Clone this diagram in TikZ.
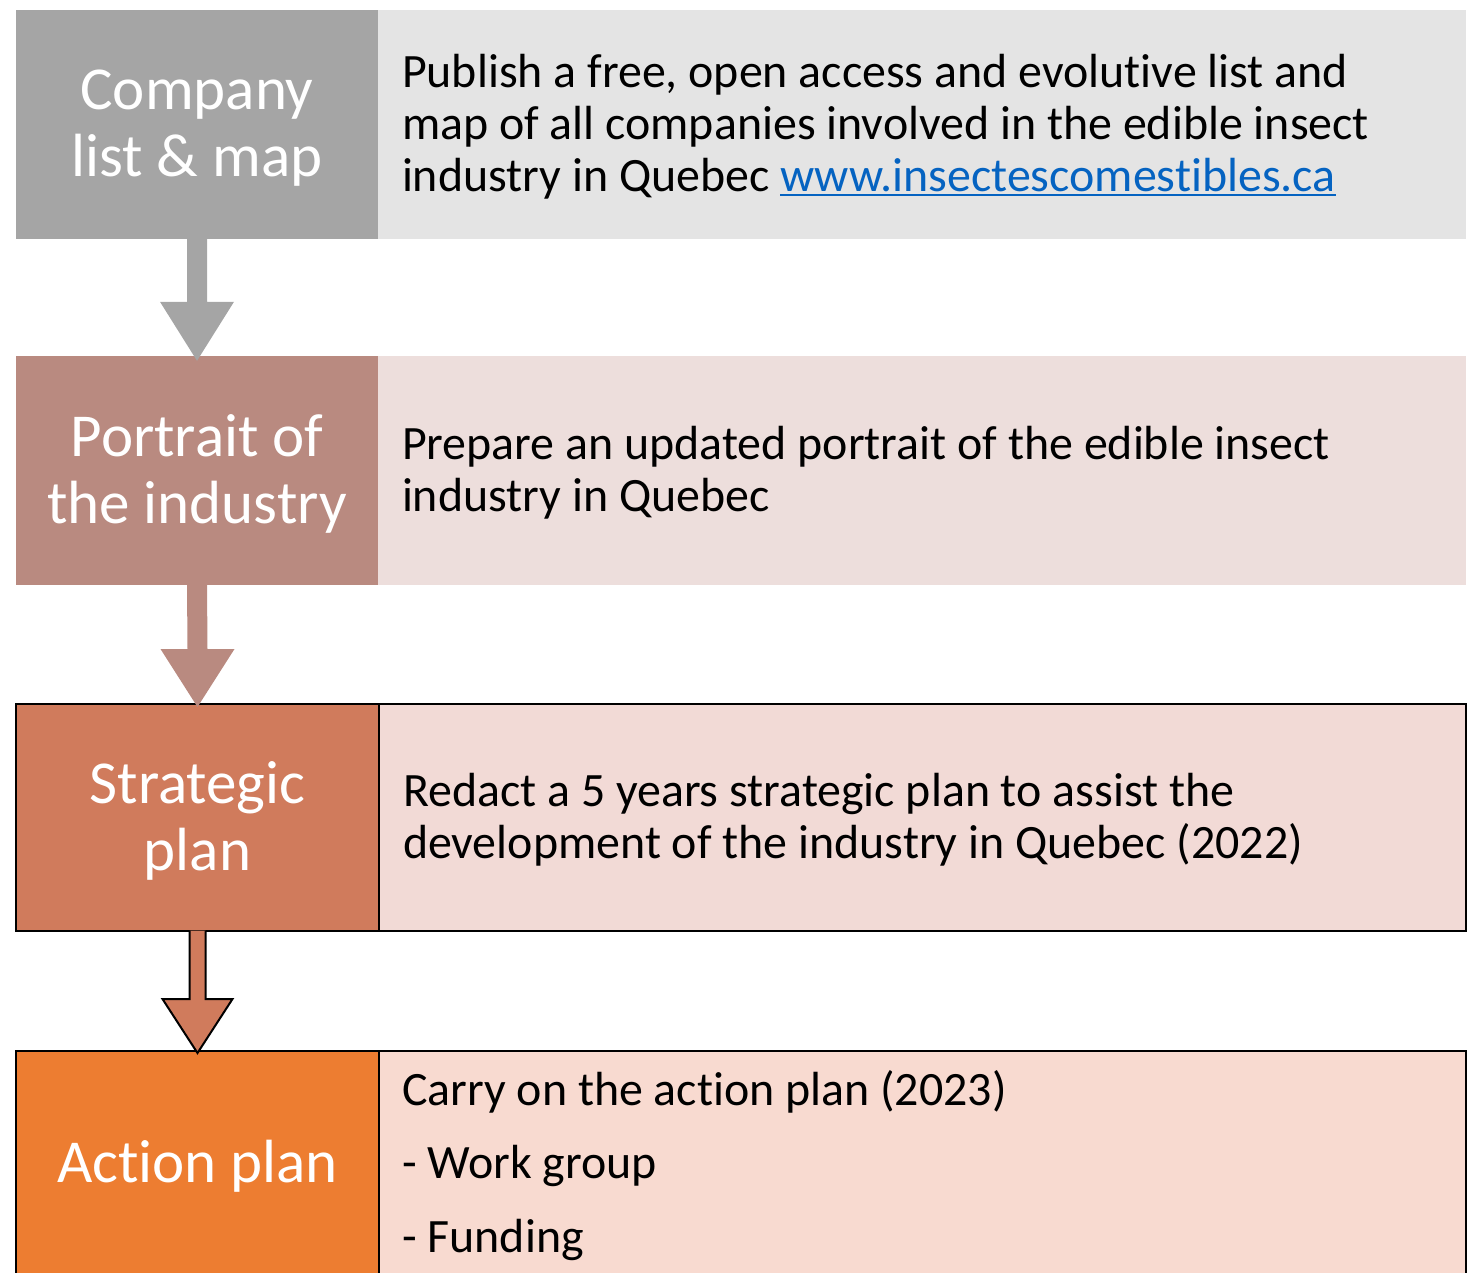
\documentclass[tikz,border=0pt]{standalone}
\usepackage{fontspec}
\setmainfont{Carlito}[Ligatures=CommonOff]
\usetikzlibrary{calc}
\definecolor{gDark}{HTML}{A5A5A5}
\definecolor{gLight}{HTML}{E4E4E4}
\definecolor{rDark}{HTML}{B98A80}
\definecolor{rLight}{HTML}{EDDEDC}
\definecolor{sDark}{HTML}{D07B5C}
\definecolor{sLight}{HTML}{F2DAD6}
\definecolor{oDark}{HTML}{ED7D31}
\definecolor{oLight}{HTML}{F8DAD0}
\definecolor{linkblue}{HTML}{0563C1}
\newcommand\linkul[1]{\setbox0=\hbox{#1}\rlap{\color{linkblue}\rule[-5pt]{\wd0}{2.2pt}}\box0}
\begin{document}
\begin{tikzpicture}[x=1pt,y=-1pt,
  lbox/.style={rectangle, minimum width=362pt, minimum height=229pt, inner sep=0pt,
    text=white, align=center, font=\fontsize{61}{67}\selectfont},
  ltext/.style={inner sep=0pt, text=white, align=center, font=\fontsize{61}{67}\selectfont, yshift=-3.5pt},
  rbox/.style={rectangle, minimum width=1088pt, minimum height=229pt, inner sep=0pt},
  rtext/.style={inner sep=0pt, text width=1040pt, align=flush left,
    font=\fontsize{47.9}{52}\selectfont, yshift=-2pt},
  ltxt/.style={anchor=base west, inner sep=0pt, font=\fontsize{47.9}{52}\selectfont},
  outl/.style={draw=black, line width=2pt},
]
\useasboundingbox (0,0) rectangle (1473,1273);
\clip (0,0) rectangle (1473,1273);

% Row 1
\node[lbox, fill=gDark] (l1) at (197,124.5) {};
\node[ltext] (lt1) at (l1) {Company\\list \& map};
\node[rbox, fill=gLight] (r1) at (922,124.5) {};
\node[rtext] (rt1) at (r1) {Publish a free, open access and evolutive list and\\map of all companies involved in the edible insect\\industry in Quebec \linkul{\textcolor{linkblue}{www.insectescomestibles.ca}}};

% Row 2
\node[lbox, fill=rDark] (l2) at (197,470.5) {};
\node[ltext] (lt2) at (l2) {Portrait of\\the industry};
\node[rbox, fill=rLight] (r2) at (922,470.5) {};
\node[rtext] (rt2) at (r2) {Prepare an updated portrait of the edible insect\\industry in Quebec};

% Row 3
\node[lbox, fill=sDark, outl, minimum width=363pt, minimum height=227pt] (l3) at (197.5,817.5) {};
\node[ltext] (lt3) at (l3) {Strategic\\plan};
\node[rbox, fill=sLight, outl, minimum width=1087pt, minimum height=227pt] (r3) at (922.5,817.5) {};
\node[rtext, text width=1039pt] (rt3) at (r3) {Redact a 5 years strategic plan to assist the\\development of the industry in Quebec (2022)};

% Row 4
\node[lbox, fill=oDark, outl, minimum width=363pt, minimum height=224pt] (l4) at (197.5,1163) {};
\node[ltext] (lt4) at (l4) {Action plan};
\node[rbox, fill=oLight, outl, minimum width=1087pt, minimum height=224pt] (r4) at (922.5,1163) {};
\node[ltxt] (t4a) at (402,1105) {Carry on the action plan (2023)};
\node[ltxt] (t4b) at (402,1178) {- Work group};
\node[ltxt] (t4c) at (402,1252) {- Funding};

% Arrows
\fill[gDark] ($(l1.south)+(-10,-1)$) -- ($(l2.north)+(-10,-54)$) -- ($(l2.north)+(-37,-54)$)
  -- ($(l2.north)+(0,5)$) -- ($(l2.north)+(37,-54)$) -- ($(l2.north)+(10,-54)$)
  -- ($(l1.south)+(10,-1)$) -- cycle;
\fill[rDark] ($(l2.south)+(-10,-1)$) -- ($(l3.north)+(-10,-54)$) -- ($(l3.north)+(-37,-54)$)
  -- ($(l3.north)+(0,4)$) -- ($(l3.north)+(37,-54)$) -- ($(l3.north)+(10,-54)$)
  -- ($(l2.south)+(10,-1)$) -- cycle;
\path[fill=sDark, draw=black, line width=2pt, line join=miter]
  ($(l3.south)+(-8,-1.5)$) -- ($(l4.north)+(-8,-51)$) -- ($(l4.north)+(-35,-51)$)
  -- ($(l4.north)+(0,3)$) -- ($(l4.north)+(35,-51)$) -- ($(l4.north)+(8,-51)$)
  -- ($(l3.south)+(8,-1.5)$);
\end{tikzpicture}
\end{document}
